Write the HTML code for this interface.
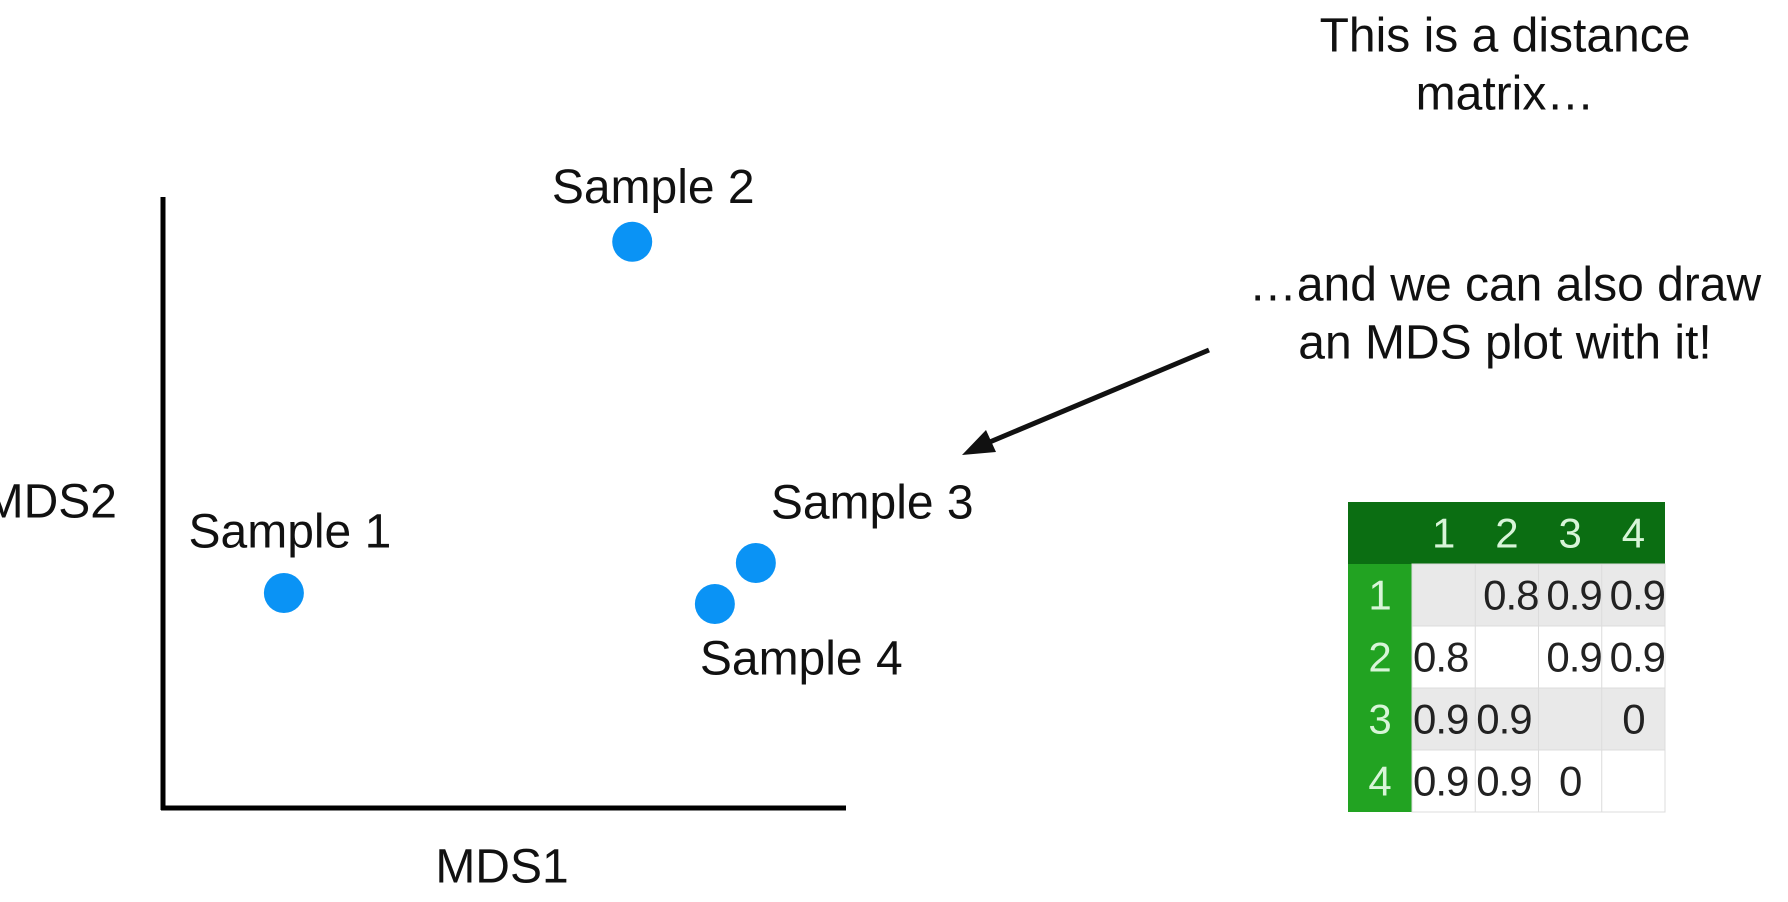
<!DOCTYPE html>
<html><head><meta charset="utf-8"><style>
html,body{margin:0;padding:0;background:#fff;width:1788px;height:902px;overflow:hidden;font-family:"Liberation Sans",sans-serif}
</style></head><body>
<svg width="1788" height="902" viewBox="0 0 1788 902" style="font-family:'Liberation Sans',sans-serif">
<g id="plot"></g>
<g id="texts">
  <text x="1505" y="36" text-anchor="middle" dominant-baseline="central" font-size="48" fill="#111">This is a distance</text>
  <text x="1505" y="94" text-anchor="middle" dominant-baseline="central" font-size="48" fill="#111">matrix…</text>
  <text x="1505" y="285" text-anchor="middle" dominant-baseline="central" font-size="48" fill="#111">…and we can also draw</text>
  <text x="1505" y="343" text-anchor="middle" dominant-baseline="central" font-size="48" fill="#111">an MDS plot with it!</text>
  <g>
    <line x1="1209" y1="350" x2="985" y2="444" stroke="#111" stroke-width="5"/>
    <polygon points="962,455 986,430 996,452" fill="#111"/>
  </g>
</g>
<g id="table"></g>
</svg>
<script>
const sampleNames = ["Sample 1","Sample 2","Sample 3","Sample 4"];
const mds1 = [1.77, 6.87, 8.68, 8.08];
const mds2 = [3.54, 9.27, 4.03, 3.36];
const matrixHeaders = ["1","2","3","4"];
const matrixValues = [["","0.8","0.9","0.9"],["0.8","","0.9","0.9"],["0.9","0.9","","0"],["0.9","0.9","0",""]];

const NS="http://www.w3.org/2000/svg";
function mk(tag,attrs,parent){const e=document.createElementNS(NS,tag);for(const k in attrs)e.setAttribute(k,attrs[k]);parent.appendChild(e);return e;}
const xS=v=>163+v*68.3, yS=v=>810-v*61.3;
const plot=document.getElementById('plot');
let a=mk('line',{x1:163,y1:197,x2:163,y2:810,stroke:'#000','stroke-width':5},plot);


a=mk('line',{x1:161,y1:808,x2:846,y2:808,stroke:'#000','stroke-width':5},plot);


a=mk('text',{x:117,y:502,'text-anchor':'end','dominant-baseline':'central','font-size':48,fill:'#111'},plot);a.textContent='MDS2';


a=mk('text',{x:502,y:867,'text-anchor':'middle','dominant-baseline':'central','font-size':48,fill:'#111'},plot);a.textContent='MDS1';


const offs=[[6,-61,'middle'],[21,-54,'middle'],[15,-60,'start'],[-15,55,'start']];
for(let i=0;i<mds1.length;i++){
  const cx=xS(mds1[i]),cy=yS(mds2[i]);
  const c=mk('circle',{cx:cx,cy:cy,r:20,fill:'#0a93f5'},plot);
  
  
  const o=offs[i];
  const t=mk('text',{x:cx+o[0],y:cy+o[1],'text-anchor':o[2],'dominant-baseline':'central','font-size':48,fill:'#111'},plot);
  t.textContent=sampleNames[i];
  
  
}
const tb=document.getElementById('table');
const X0=1348,Y0=502,c0=64,cw=63.25,hh=62,rh=62;
let r=mk('rect',{x:X0,y:Y0,width:c0+4*cw,height:hh,fill:'#0b6e12'},tb);


for(let i=0;i<4;i++){
  const y=Y0+hh+i*rh;
  r=mk('rect',{x:X0,y:y,width:c0,height:rh,fill:'#22a322'},tb);
  
  
  r=mk('rect',{x:X0+c0,y:y,width:4*cw,height:rh,fill:i%2==0?'#e9e9e9':'#fff',stroke:'#dcdcdc','stroke-width':1},tb);
  
  
  let t=mk('text',{x:X0+c0/2,y:y+rh/2,'text-anchor':'middle','dominant-baseline':'central','font-size':42,fill:'#d8f5d8'},tb);
  t.textContent=matrixHeaders[i];
  
  
  t=mk('text',{x:X0+c0+i*cw+cw/2,y:Y0+hh/2,'text-anchor':'middle','dominant-baseline':'central','font-size':42,fill:'#d8f5d8'},tb);
  t.textContent=matrixHeaders[i];
  
  
}
for(let j=1;j<4;j++){
  const l=mk('line',{x1:X0+c0+j*cw,y1:Y0+hh,x2:X0+c0+j*cw,y2:Y0+hh+4*rh,stroke:'#dcdcdc','stroke-width':1},tb);
  
  
}
for(let i=0;i<4;i++)for(let j=0;j<4;j++){
  const v=matrixValues[i][j]; if(!v) continue;
  const y=Y0+hh+i*rh+rh/2;
  let x,anc;
  if(v==='0'){x=X0+c0+j*cw+cw/2;anc='middle';}
  else if(i<2&&j>=1){x=X0+c0+(j+1)*cw;anc='end';}
  else {x=X0+c0+j*cw+1;anc='start';}
  const t=mk('text',{x:x,y:y,'text-anchor':anc,'dominant-baseline':'central','font-size':42,'letter-spacing':-1,fill:'#222'},tb);
  t.textContent=v;
  
  
}
</script>
</body></html>
